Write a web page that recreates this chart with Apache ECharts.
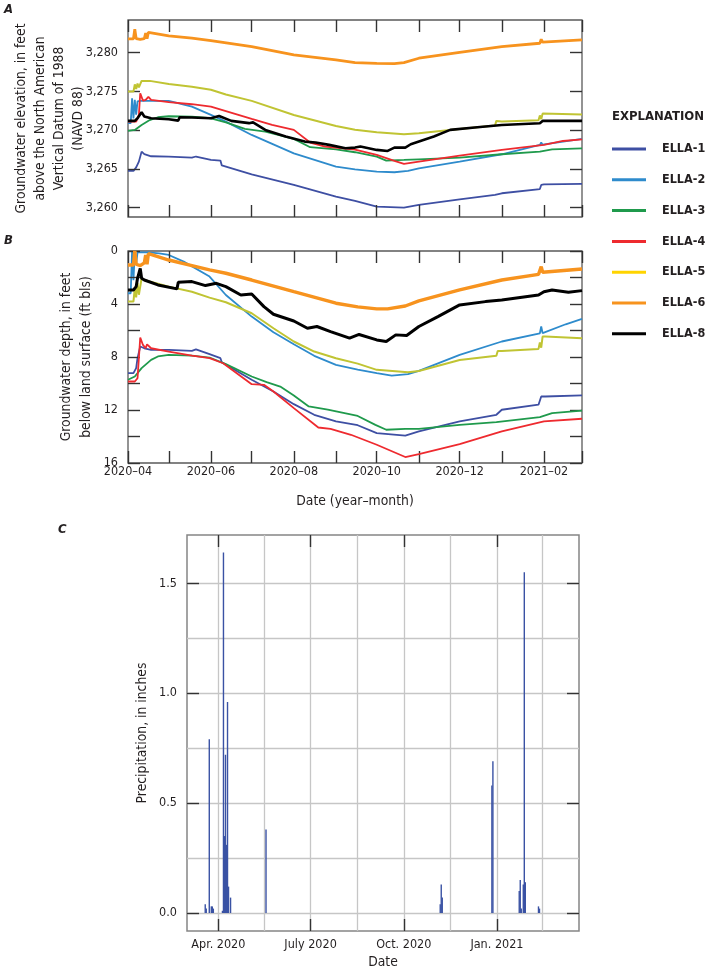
<!DOCTYPE html>
<html>
<head>
<meta charset="utf-8">
<script src="https://cdn.jsdelivr.net/npm/echarts@6/dist/echarts.min.js"></script>
<style>
html,body{margin:0;padding:0;background:#fff;}
#chart{width:707px;height:971px;}
</style>
</head>
<body>
<div id="chart"></div>
<script>
// ---------- DATA ----------
const wellNames = ['ELLA-1','ELLA-2','ELLA-3','ELLA-4','ELLA-5','ELLA-6','ELLA-8'];
const wellColors = ['#3e4fa3','#2e8bcc','#1f9a4c','#ee2a2f','#c0c433','#f7931e','#000000'];
const legendColors = ['#3e4fa3','#2e8bcc','#1f9a4c','#ee2a2f','#ffd400','#f7931e','#000000'];

// Panel A: groundwater elevation (ft NAVD 88)
const ella1A = [['2020-04-01',3264.74],['2020-04-05',3264.74],['2020-04-07',3265.2],['2020-04-09',3265.94],['2020-04-11',3267.23],['2020-04-13',3266.9],['2020-04-18',3266.63],['2020-05-01',3266.59],['2020-05-18',3266.46],['2020-05-21',3266.6],['2020-06-01',3266.16],['2020-06-08',3266.07],['2020-06-09',3265.45],['2020-07-01',3264.3],['2020-08-01',3262.93],['2020-09-01',3261.43],['2020-09-15',3260.87],['2020-10-01',3260.14],['2020-10-21',3260.0],['2020-11-01',3260.35],['2020-12-01',3261.08],['2020-12-27',3261.64],['2021-01-01',3261.86],['2021-01-29',3262.4],['2021-01-30',3262.93],['2021-02-01',3263.0],['2021-03-01',3263.06]];
const ella2A = [['2020-04-01',3270.9],['2020-04-03',3270.9],['2020-04-04',3274.1],['2020-04-05',3271.5],['2020-04-06',3273.9],['2020-04-07',3272.0],['2020-04-08',3273.7],['2020-04-10',3273.77],['2020-05-01',3273.77],['2020-05-18',3273.04],['2020-06-01',3271.96],['2020-06-12',3271.1],['2020-07-01',3269.38],['2020-08-01',3267.0],['2020-09-01',3265.3],['2020-09-15',3264.95],['2020-10-01',3264.65],['2020-10-14',3264.57],['2020-10-24',3264.74],['2020-11-01',3265.08],['2020-12-01',3265.94],['2021-01-01',3266.89],['2021-01-29',3268.1],['2021-01-30',3268.4],['2021-01-31',3268.12],['2021-02-01',3268.18],['2021-03-01',3268.86]];
const ella3A = [['2020-04-01',3269.9],['2020-04-06',3270.03],['2020-04-11',3270.67],['2020-04-17',3271.3],['2020-04-23',3271.66],['2020-05-01',3271.79],['2020-05-18',3271.75],['2020-06-01',3271.53],['2020-06-12',3271.0],['2020-06-26',3270.15],['2020-07-11',3269.8],['2020-08-01',3268.87],['2020-08-13',3267.8],['2020-09-01',3267.53],['2020-09-15',3267.15],['2020-10-01',3266.59],['2020-10-08',3266.07],['2020-10-21',3266.16],['2020-11-01',3266.24],['2020-12-01',3266.46],['2021-01-01',3266.89],['2021-01-29',3267.23],['2021-02-07',3267.53],['2021-03-01',3267.66]];
const ella4A = [['2020-04-01',3271.1],['2020-04-07',3271.1],['2020-04-09',3271.96],['2020-04-10',3274.75],['2020-04-12',3273.8],['2020-04-14',3273.9],['2020-04-16',3274.3],['2020-04-18',3273.9],['2020-05-01',3273.6],['2020-05-18',3273.34],['2020-06-01',3273.04],['2020-07-01',3271.45],['2020-07-16',3270.67],['2020-08-01',3270.03],['2020-08-13',3268.4],['2020-08-24',3267.88],['2020-09-15',3267.5],['2020-10-01',3266.8],['2020-10-14',3266.03],['2020-10-21',3265.64],['2020-11-01',3265.94],['2020-12-01',3266.72],['2021-01-01',3267.45],['2021-02-01',3268.09],['2021-02-15',3268.6],['2021-03-01',3268.8]];
const ella5A = [['2020-04-01',3274.97],['2020-04-05',3274.97],['2020-04-06',3275.9],['2020-04-07',3275.3],['2020-04-08',3276.0],['2020-04-09',3275.5],['2020-04-11',3276.35],['2020-04-17',3276.35],['2020-05-01',3275.96],['2020-05-18',3275.6],['2020-06-01',3275.2],['2020-06-12',3274.6],['2020-07-01',3273.77],['2020-08-01',3271.96],['2020-09-01',3270.54],['2020-09-15',3270.05],['2020-10-01',3269.72],['2020-10-21',3269.47],['2020-11-01',3269.6],['2020-12-01',3270.15],['2020-12-27',3270.6],['2020-12-28',3271.19],['2021-01-01',3271.1],['2021-01-28',3271.27],['2021-01-29',3271.9],['2021-01-30',3271.4],['2021-01-31',3272.13],['2021-02-01',3272.13],['2021-03-01',3272.0]];
const ella6A = [['2020-04-01',3281.76],['2020-04-05',3281.76],['2020-04-06',3283.0],['2020-04-07',3281.8],['2020-04-10',3281.7],['2020-04-13',3281.8],['2020-04-14',3282.5],['2020-04-15',3281.8],['2020-04-16',3282.6],['2020-04-17',3282.6],['2020-05-01',3282.15],['2020-05-18',3281.85],['2020-06-01',3281.55],['2020-07-01',3280.77],['2020-08-01',3279.7],['2020-09-01',3279.05],['2020-09-15',3278.7],['2020-10-01',3278.62],['2020-10-14',3278.58],['2020-10-21',3278.7],['2020-11-01',3279.27],['2020-12-01',3280.04],['2021-01-01',3280.77],['2021-01-29',3281.2],['2021-01-30',3281.72],['2021-01-31',3281.35],['2021-02-01',3281.4],['2021-03-01',3281.63]];
const ella8A = [['2020-04-01',3271.19],['2020-04-06',3271.19],['2020-04-08',3271.53],['2020-04-11',3272.3],['2020-04-13',3271.75],['2020-04-18',3271.53],['2020-05-01',3271.4],['2020-05-08',3271.23],['2020-05-09',3271.66],['2020-05-18',3271.62],['2020-06-01',3271.53],['2020-06-07',3271.83],['2020-06-16',3271.19],['2020-06-29',3270.9],['2020-07-02',3271.0],['2020-07-11',3270.03],['2020-07-26',3269.17],['2020-08-09',3268.52],['2020-08-17',3268.4],['2020-08-27',3268.1],['2020-09-08',3267.66],['2020-09-15',3267.75],['2020-09-19',3267.88],['2020-10-01',3267.45],['2020-10-09',3267.32],['2020-10-14',3267.75],['2020-10-22',3267.75],['2020-10-26',3268.18],['2020-11-12',3269.17],['2020-11-24',3270.03],['2020-12-14',3270.37],['2021-01-01',3270.67],['2021-01-29',3270.89],['2021-01-31',3271.19],['2021-02-08',3271.19],['2021-03-01',3271.19]];

// Panel B: groundwater depth (ft bls)
const ella1B = [['2020-04-01',9.22],['2020-04-05',9.22],['2020-04-07',8.84],['2020-04-08',8.09],['2020-04-10',7.21],['2020-04-13',7.34],['2020-04-18',7.46],['2020-05-01',7.46],['2020-05-18',7.54],['2020-05-21',7.42],['2020-05-31',7.79],['2020-06-08',8.09],['2020-06-09',8.39],['2020-07-01',9.72],['2020-07-17',10.6],['2020-08-01',11.56],['2020-08-16',12.36],['2020-09-01',12.86],['2020-09-17',13.15],['2020-10-01',13.74],['2020-10-22',13.94],['2020-11-01',13.62],['2020-12-01',12.86],['2020-12-28',12.36],['2021-01-01',11.98],['2021-01-28',11.6],['2021-01-30',10.98],['2021-02-02',10.98],['2021-03-01',10.9]];
const ella2B = [['2020-04-01',3.19],['2020-04-03',3.19],['2020-04-04',0.0],['2020-04-05',2.2],['2020-04-06',0.1],['2020-04-07',1.0],['2020-04-08',0.1],['2020-04-16',0.1],['2020-04-24',0.18],['2020-05-01',0.3],['2020-05-12',0.8],['2020-05-31',1.93],['2020-06-12',3.32],['2020-07-01',4.95],['2020-07-17',6.13],['2020-08-01',7.04],['2020-08-16',7.91],['2020-09-01',8.59],['2020-09-17',8.95],['2020-10-01',9.22],['2020-10-12',9.4],['2020-10-24',9.3],['2020-11-01',9.05],['2020-12-01',7.84],['2021-01-01',6.83],['2021-01-29',6.21],['2021-01-30',5.7],['2021-01-31',6.2],['2021-02-01',6.13],['2021-02-17',5.53],['2021-03-01',5.13]];
const ella3B = [['2020-04-01',9.72],['2020-04-06',9.47],['2020-04-11',8.84],['2020-04-18',8.22],['2020-04-23',7.96],['2020-05-01',7.84],['2020-05-18',7.89],['2020-05-31',8.04],['2020-06-12',8.54],['2020-07-01',9.47],['2020-07-12',9.9],['2020-07-22',10.23],['2020-08-01',10.9],['2020-08-12',11.73],['2020-08-26',11.98],['2020-09-17',12.45],['2020-09-30',13.12],['2020-10-08',13.49],['2020-10-22',13.42],['2020-11-01',13.42],['2020-12-01',13.12],['2020-12-28',12.91],['2021-01-29',12.54],['2021-02-07',12.24],['2021-03-01',12.04]];
const ella4B = [['2020-04-01',9.85],['2020-04-06',9.85],['2020-04-08',9.6],['2020-04-09',8.09],['2020-04-10',6.53],['2020-04-12',7.09],['2020-04-14',7.34],['2020-04-15',7.04],['2020-04-18',7.34],['2020-05-01',7.59],['2020-05-18',7.89],['2020-05-31',8.09],['2020-06-10',8.47],['2020-07-01',10.05],['2020-07-10',10.1],['2020-07-17',10.6],['2020-08-01',11.86],['2020-08-19',13.32],['2020-08-28',13.42],['2020-09-12',13.87],['2020-10-01',14.62],['2020-10-22',15.55],['2020-11-01',15.33],['2020-12-01',14.57],['2021-01-01',13.62],['2021-02-01',12.86],['2021-03-01',12.66]];
const ella5B = [['2020-04-01',3.82],['2020-04-05',3.82],['2020-04-06',2.8],['2020-04-07',3.5],['2020-04-08',2.4],['2020-04-09',3.3],['2020-04-11',2.06],['2020-04-13',2.19],['2020-05-01',2.69],['2020-05-18',3.07],['2020-05-31',3.52],['2020-06-12',3.87],['2020-07-01',4.7],['2020-07-17',5.83],['2020-08-01',6.83],['2020-08-16',7.59],['2020-09-01',8.09],['2020-09-17',8.5],['2020-10-01',8.97],['2020-10-24',9.15],['2020-11-01',9.05],['2020-12-01',8.22],['2020-12-28',7.91],['2020-12-29',7.54],['2021-01-01',7.54],['2021-01-28',7.39],['2021-01-29',6.9],['2021-01-30',7.3],['2021-01-31',6.46],['2021-02-02',6.46],['2021-03-01',6.58]];
const ella6B = [['2020-04-01',1.06],['2020-04-05',1.06],['2020-04-06',0.0],['2020-04-07',1.0],['2020-04-10',1.1],['2020-04-13',0.9],['2020-04-14',0.3],['2020-04-15',1.0],['2020-04-16',0.2],['2020-04-17',0.25],['2020-05-01',0.68],['2020-05-18',1.1],['2020-05-31',1.43],['2020-06-12',1.68],['2020-07-01',2.19],['2020-08-01',3.07],['2020-09-01',3.94],['2020-09-17',4.22],['2020-10-01',4.37],['2020-10-09',4.37],['2020-10-22',4.15],['2020-11-01',3.77],['2020-12-01',2.94],['2021-01-01',2.19],['2021-01-28',1.76],['2021-01-30',1.18],['2021-01-31',1.6],['2021-02-01',1.56],['2021-03-01',1.36]];
const ella8B = [['2020-04-01',2.94],['2020-04-05',2.94],['2020-04-07',2.69],['2020-04-08',2.06],['2020-04-10',1.31],['2020-04-11',2.06],['2020-04-13',2.19],['2020-04-23',2.56],['2020-05-07',2.86],['2020-05-08',2.36],['2020-05-18',2.31],['2020-05-28',2.61],['2020-06-05',2.44],['2020-06-12',2.69],['2020-06-23',3.32],['2020-07-01',3.24],['2020-07-10',4.2],['2020-07-17',4.77],['2020-08-01',5.28],['2020-08-11',5.83],['2020-08-18',5.7],['2020-08-28',6.08],['2020-09-11',6.58],['2020-09-18',6.3],['2020-10-01',6.71],['2020-10-08',6.83],['2020-10-15',6.33],['2020-10-23',6.38],['2020-11-01',5.7],['2020-11-15',4.95],['2020-12-01',4.07],['2020-12-20',3.82],['2021-01-01',3.69],['2021-01-28',3.32],['2021-02-01',3.07],['2021-02-07',2.94],['2021-02-19',3.12],['2021-03-01',2.99]];

// Panel C: daily precipitation (inches)
const precipDates  = ['2020-03-19','2020-03-20','2020-03-23','2020-03-25','2020-03-26','2020-03-27','2020-04-05','2020-04-06','2020-04-07','2020-04-08','2020-04-09','2020-04-10','2020-04-11','2020-04-13','2020-05-18','2020-11-06','2020-11-07','2020-11-08','2020-12-27','2020-12-28','2021-01-23','2021-01-24','2021-01-25','2021-01-27','2021-01-28','2021-01-29','2021-02-11','2021-02-12'];
const precipValues = [0.04,0.02,0.79,0.03,0.03,0.02,0.01,1.64,0.35,0.72,0.31,0.96,0.12,0.07,0.38,0.04,0.13,0.07,0.58,0.69,0.10,0.15,0.02,0.13,1.55,0.14,0.03,0.02];

// Axis ticks / labels
const abMonthTicks = ['2020-04-01','2020-05-01','2020-06-01','2020-07-01','2020-08-01','2020-09-01','2020-10-01','2020-11-01','2020-12-01','2021-01-01','2021-02-01','2021-03-01'];
const abMonthLabels = ['2020-04-01','2020-06-01','2020-08-01','2020-10-01','2020-12-01','2021-02-01'];
const aElevTicks = [3260,3265,3270,3275,3280];
const bDepthTicks = [0,2,4,6,8,10,12,14,16];
const bDepthLabels = [0,4,8,12,16];
const cQuarterTicks = ['2020-04-01','2020-07-01','2020-10-01','2021-01-01'];
const cGridDates = ['2020-04-01','2020-05-16','2020-07-01','2020-08-16','2020-10-01','2020-11-16','2021-01-01','2021-02-15'];
const cPrecipTicks = [0,0.5,1.0,1.5];
const cPrecipGrid = [0,0.25,0.5,0.75,1.0,1.25,1.5];
const monthAbbr = ['Jan.','Feb.','Mar.','Apr.','May','June','July','Aug.','Sept.','Oct.','Nov.','Dec.'];

// ---------- HELPERS ----------
const FONT = "'DejaVu Sans Condensed','Liberation Sans Narrow',sans-serif";
function ts(s){ const p = s.split('-').map(Number); return new Date(p[0], p[1]-1, p[2]).getTime(); }
const TXT = '#231f20';
const TICK = '#333333';
const LBL = 12.5;
const NAME = 13.8;

function tickAxisX(grid, pos, ticks, labels, fmt, margin, extra){
  return Object.assign({
    type:'value', gridIndex:grid, position:pos, scale:true, z:5,
    axisLine:{show:false, onZero:false},
    axisTick:{show:true, inside:true, length:12, lineStyle:{color:TICK, width:1.4}, customValues:ticks.map(ts)},
    axisLabel: labels ? {show:true, customValues:labels.map(ts), formatter:fmt, fontFamily:FONT, fontSize:LBL, color:TXT, margin:margin, hideOverlap:false} : {show:false},
    splitLine:{show:false}
  }, extra);
}
function tickAxisY(grid, pos, ticks, labels, fmt, extra){
  return Object.assign({
    type:'value', gridIndex:grid, position:pos, z:5,
    axisLine:{show:false, onZero:false},
    axisTick:{show:true, inside:true, length:12, lineStyle:{color:TICK, width:1.4}, customValues:ticks},
    axisLabel: labels ? {show:true, customValues:labels, formatter:fmt, fontFamily:FONT, fontSize:LBL, color:TXT, margin:10} : {show:false},
    splitLine:{show:false}
  }, extra);
}

const abX = {min:ts('2020-04-01'), max:ts('2021-03-01')};
const cX = {min:ts('2020-03-01'), max:ts('2021-03-23')};
const aY = {min:3258.8, max:3284.2};
const bY = {min:0, max:16, inverse:true};
const cY = {min:-0.082, max:1.72};

const fmtYM = v => { const d = new Date(v); const m = d.getMonth()+1; return d.getFullYear() + '\u2013' + (m<10?'0':'') + m; };
const fmtC = v => { const d = new Date(v); return monthAbbr[d.getMonth()] + ' ' + d.getFullYear(); };
const fmtElev = v => { const s = String(Math.round(v)); return s.slice(0, s.length-3) + ',' + s.slice(-3); };
const nameStyle = (lh) => ({fontFamily:FONT, fontSize:NAME, color:TXT, lineHeight:lh});

const xAxes = [
  tickAxisX(0,'bottom',abMonthTicks,null,null,0,abX),
  tickAxisX(0,'top',abMonthTicks,null,null,0,abX),
  tickAxisX(1,'bottom',abMonthTicks,abMonthLabels,fmtYM,2,Object.assign({name:'Date (year\u2013month)', nameLocation:'middle', nameGap:30, nameMoveOverlap:false, nameTextStyle:nameStyle(16)},abX)),
  tickAxisX(1,'top',abMonthTicks,null,null,0,abX),
  Object.assign({type:'value', gridIndex:2, position:'bottom', scale:true, z:0, axisLine:{show:false, onZero:false}, axisTick:{show:false, customValues:cGridDates.map(ts)}, axisLabel:{show:false}, splitLine:{show:true, lineStyle:{color:'#c6c6c6', width:1.3}}}, cX),
  tickAxisX(2,'bottom',cQuarterTicks,cQuarterTicks,fmtC,7,Object.assign({name:'Date', nameLocation:'middle', nameGap:23, nameMoveOverlap:false, nameTextStyle:nameStyle(16)},cX)),
  tickAxisX(2,'top',cQuarterTicks,null,null,0,cX)
];
const yAxes = [
  tickAxisY(0,'left',aElevTicks,aElevTicks,fmtElev,Object.assign({name:'Groundwater elevation, in feet\nabove the North American\nVertical Datum of 1988\n(NAVD 88)', nameLocation:'middle', nameGap:40, nameMoveOverlap:false, nameTextStyle:nameStyle(19)},aY)),
  tickAxisY(0,'right',aElevTicks,null,null,aY),
  tickAxisY(1,'left',bDepthTicks,bDepthLabels,v=>String(v),Object.assign({name:'Groundwater depth, in feet\nbelow land surface (ft bls)', nameLocation:'middle', nameGap:32, nameMoveOverlap:false, nameTextStyle:nameStyle(20)},bY)),
  tickAxisY(1,'right',bDepthTicks,null,null,bY),
  Object.assign({type:'value', gridIndex:2, position:'left', z:0, axisLine:{show:false, onZero:false}, axisTick:{show:false, customValues:cPrecipGrid}, axisLabel:{show:false}, splitLine:{show:true, lineStyle:{color:'#c6c6c6', width:1.3}}}, cY),
  tickAxisY(2,'left',cPrecipTicks,cPrecipTicks,v=>v.toFixed(1),Object.assign({name:'Precipitation, in inches', nameLocation:'middle', nameGap:36, nameMoveOverlap:false, nameTextStyle:nameStyle(17)},cY)),
  tickAxisY(2,'right',cPrecipTicks,null,null,cY)
];

const dataA = [ella1A, ella2A, ella3A, ella4A, ella5A, ella6A, ella8A];
const dataB = [ella1B, ella2B, ella3B, ella4B, ella5B, ella6B, ella8B];
const widthsA = [1.8,1.8,1.8,1.8,2.0,2.8,2.6];
const widthsB = [1.8,1.8,1.8,1.8,2.0,3.4,3.0];

const series = [];
wellNames.forEach((n,i)=>{
  series.push({type:'line', name:n, xAxisIndex:0, yAxisIndex:0, data:dataA[i].map(d=>[ts(d[0]),d[1]]), showSymbol:false, symbol:'none', lineStyle:{color:wellColors[i], width:widthsA[i]}, itemStyle:{color:wellColors[i]}, z:3+i});
});
wellNames.forEach((n,i)=>{
  series.push({type:'line', name:n, xAxisIndex:2, yAxisIndex:2, data:dataB[i].map(d=>[ts(d[0]),d[1]]), showSymbol:false, symbol:'none', lineStyle:{color:wellColors[i], width:widthsB[i]}, itemStyle:{color:wellColors[i]}, z:3+i});
});
series.push({type:'bar', name:'Precipitation', xAxisIndex:5, yAxisIndex:5, data:precipDates.map((d,i)=>[ts(d),precipValues[i]]), barWidth:1.4, barGap:'-100%', itemStyle:{color:'#3a52a4'}, z:5});

const titleStyle = {fontFamily:FONT, fontSize:13, fontWeight:'bold', fontStyle:'italic', color:TXT};
const option = {
  animation:false,
  backgroundColor:'#ffffff',
  title:[
    {text:'A', left:4, top:3, padding:0, textStyle:titleStyle},
    {text:'B', left:4, top:234, padding:0, textStyle:titleStyle},
    {text:'C', left:58, top:523, padding:0, textStyle:titleStyle},
    {text:'EXPLANATION', left:612, top:110, padding:0, textStyle:{fontFamily:FONT, fontSize:13, fontWeight:'bold', color:TXT}}
  ],
  legend:{
    orient:'vertical', left:612, top:142, padding:0, itemWidth:34, itemHeight:3, itemGap:16.8, icon:'rect',
    textStyle:{fontFamily:FONT, fontSize:12.5, fontWeight:'bold', color:TXT, lineHeight:14, padding:[0,0,0,11]},
    selectedMode:false,
    data: wellNames.map((n,i)=>({name:n, itemStyle:{color:legendColors[i]}}))
  },
  grid:[
    {left:128, top:20, width:454, height:197, show:true, borderColor:'#5a5a5a', borderWidth:1.3, backgroundColor:'transparent', outerBoundsMode:'none', containLabel:false},
    {left:128, top:251, width:454, height:212, show:true, borderColor:'#5a5a5a', borderWidth:1.3, backgroundColor:'transparent', outerBoundsMode:'none', containLabel:false},
    {left:187, top:535, width:392, height:396, show:true, borderColor:'#858585', borderWidth:1.5, backgroundColor:'transparent', outerBoundsMode:'none', containLabel:false}
  ],
  xAxis:xAxes,
  yAxis:yAxes,
  series:series
};

const chart = echarts.init(document.getElementById('chart'), null, {renderer:'canvas'});
chart.setOption(option);
</script>
</body>
</html>
